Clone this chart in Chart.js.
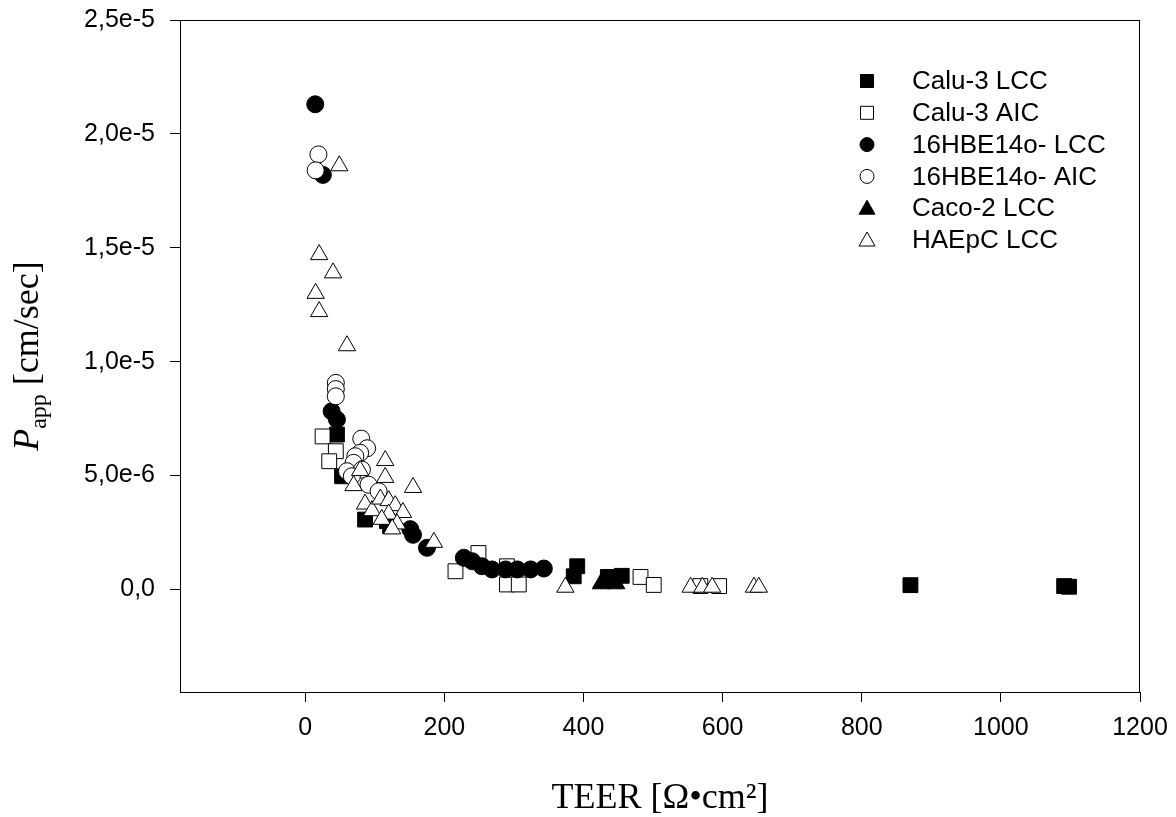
<!DOCTYPE html>
<html>
<head>
<meta charset="utf-8">
<script src="https://cdn.jsdelivr.net/npm/chart.js@4/dist/chart.umd.min.js"></script>
<style>
  body { margin: 0; background: #fff; }
</style>
</head>
<body>
<canvas id="scatterChart" width="1176" height="817"></canvas>
<script>
/*global Chart*/

//----------------------------------------------------------------
/* data: TEER [Ohm*cm2] vs Papp [cm/sec] */
//----------------------------------------------------------------
    var seriesNames = ["Calu-3 LCC", "Calu-3 AIC", "16HBE14o- LCC", "16HBE14o- AIC", "Caco-2 LCC", "HAEpC LCC"];

    var calu3LccX = [45.6, 53, 86, 117.5, 122, 391, 386, 435, 455, 870, 1091, 1098];
    var calu3LccY = [6.8e-6, 4.97e-6, 3.07e-6, 3.0e-6, 2.78e-6, 1.02e-6, 0.58e-6, 0.55e-6, 0.6e-6, 0.19e-6, 0.15e-6, 0.12e-6];

    var calu3AicX = [25, 44, 34.5, 216, 249, 290, 290, 307, 482, 501, 568, 595];
    var calu3AicY = [6.72e-6, 6.07e-6, 5.63e-6, 0.8e-6, 1.6e-6, 1.02e-6, 0.22e-6, 0.22e-6, 0.55e-6, 0.2e-6, 0.15e-6, 0.15e-6];

    var hbeLccX = [14.4, 25.4, 38, 45.6, 151, 155, 175, 228, 240, 254, 268.5, 288, 305, 324, 343];
    var hbeLccY = [2.13e-5, 1.82e-5, 7.82e-6, 7.46e-6, 2.65e-6, 2.4e-6, 1.83e-6, 1.39e-6, 1.24e-6, 1.02e-6, 0.88e-6, 0.88e-6, 0.88e-6, 0.88e-6, 0.92e-6];

    var hbeAicX = [19, 15, 44, 44, 44, 80.6, 89, 79, 72, 69.5, 60, 81.5, 67, 91, 105.5];
    var hbeAicY = [1.91e-5, 1.84e-5, 9.07e-6, 8.8e-6, 8.48e-6, 6.62e-6, 6.2e-6, 6.0e-6, 5.85e-6, 5.56e-6, 5.19e-6, 5.26e-6, 4.97e-6, 4.6e-6, 4.31e-6];

    var cacoLccX = [425, 433, 440, 447];
    var cacoLccY = [0.25e-6, 0.3e-6, 0.32e-6, 0.25e-6];

    var haepcLccX = [49, 20, 40, 15, 20, 60, 115, 115, 155, 79, 69.5, 86, 96, 108, 120, 129.5, 140.5, 120, 110, 132, 125, 185, 374, 554, 571, 585, 645, 652];
    var haepcLccY = [1.86e-5, 1.47e-5, 1.39e-5, 1.30e-5, 1.22e-5, 1.07e-5, 5.66e-6, 4.92e-6, 4.48e-6, 5.22e-6, 4.56e-6, 3.75e-6, 3.46e-6, 3.97e-6, 3.9e-6, 3.68e-6, 3.38e-6, 3.31e-6, 3.08e-6, 2.88e-6, 2.66e-6, 2.07e-6, 0.1e-6, 0.1e-6, 0.1e-6, 0.1e-6, 0.1e-6, 0.1e-6];

    var xTicks = [0, 200, 400, 600, 800, 1000, 1200];
    var yTicks = [0, 5e-6, 1e-5, 1.5e-5, 2e-5, 2.5e-5];
    var xRange = [-180, 1200];
    var yRange = [-4.5e-6, 2.5e-5];

//----------------------------------------------------------------
    function pts(xs, ys) {
        return xs.map(function (x, i) { return {x: x, y: ys[i]}; });
    }
    function fmtY(v) {
        if (Math.abs(v) < 1e-12) return "0,0";
        var e = Math.floor(Math.log10(Math.abs(v)) + 1e-9);
        var m = v / Math.pow(10, e);
        return m.toFixed(1).replace(".", ",") + "e" + e;
    }

    var styles = [
        {style: 'rect', fill: '#000', r: 10.5},
        {style: 'rect', fill: '#fff', r: 10.5},
        {style: 'circle', fill: '#000', r: 8.5},
        {style: 'circle', fill: '#fff', r: 8.5},
        {style: 'triangle', fill: '#000', r: 10},
        {style: 'triangle', fill: '#fff', r: 10}
    ];
    var allData = [
        pts(calu3LccX, calu3LccY), pts(calu3AicX, calu3AicY),
        pts(hbeLccX, hbeLccY), pts(hbeAicX, hbeAicY),
        pts(cacoLccX, cacoLccY), pts(haepcLccX, haepcLccY)
    ];

    var scatterData = {
        datasets: seriesNames.map(function (name, i) {
            return {
                label: name,
                data: allData[i],
                pointStyle: styles[i].style,
                pointRadius: styles[i].r,
                pointHoverRadius: styles[i].r,
                backgroundColor: styles[i].fill,
                borderColor: '#000',
                borderWidth: 1,
                order: seriesNames.length - i
            };
        })
    };

//----------------------------------------------------------------
/* frame, legend box inside plot, y axis title with subscript */
//----------------------------------------------------------------
    var extras = {
        id: 'extras',
        afterDraw: function (chart) {
            var ctx = chart.ctx, a = chart.chartArea;
            ctx.save();
            ctx.strokeStyle = '#000';
            ctx.lineWidth = 1;
            ctx.strokeRect(a.left + 0.5, a.top + 0.5, a.right - a.left - 1, a.bottom - a.top);

            // legend
            ctx.font = '26px "Liberation Sans", Arial, sans-serif';
            ctx.textBaseline = 'middle';
            ctx.fillStyle = '#000';
            seriesNames.forEach(function (name, i) {
                var y = 81 + 31.8 * i, x = 867, s = styles[i];
                ctx.beginPath();
                if (s.style === 'rect') {
                    ctx.rect(x - 6.5, y - 6.5, 13, 13);
                } else if (s.style === 'circle') {
                    ctx.arc(x, y, 7, 0, Math.PI * 2);
                } else {
                    ctx.moveTo(x, y - 8);
                    ctx.lineTo(x + 8, y + 6);
                    ctx.lineTo(x - 8, y + 6);
                    ctx.closePath();
                }
                ctx.fillStyle = s.fill;
                ctx.fill();
                ctx.strokeStyle = '#000';
                ctx.stroke();
                ctx.fillStyle = '#000';
                ctx.fillText(name, 912, y + 1);
            });

            // y title: P_app [cm/sec]
            var big = '36px "Liberation Serif", "Times New Roman", serif';
            var bigI = 'italic ' + big;
            var small = '24px "Liberation Serif", "Times New Roman", serif';
            ctx.font = bigI; var w1 = ctx.measureText('P').width;
            ctx.font = small; var w2 = ctx.measureText('app').width;
            ctx.font = big; var w3 = ctx.measureText(' [cm/sec]').width;
            var total = w1 + w2 + w3;
            ctx.translate(38, (a.top + a.bottom) / 2);
            ctx.rotate(-Math.PI / 2);
            ctx.textBaseline = 'alphabetic';
            ctx.textAlign = 'left';
            var cx = -total / 2;
            ctx.font = bigI; ctx.fillText('P', cx, 0); cx += w1;
            ctx.font = small; ctx.fillText('app', cx, 8); cx += w2;
            ctx.font = big; ctx.fillText(' [cm/sec]', cx, 0);
            ctx.restore();
        }
    };

    var scatterOptions = {
        responsive: false,
        animation: false,
        layout: { padding: {top: 20, right: 36, bottom: 0, left: 0} },
        plugins: {
            legend: { display: false },
            tooltip: { enabled: false }
        },
        scales: {
            x: {
                type: 'linear',
                min: xRange[0],
                max: xRange[1],
                afterBuildTicks: function (s) { s.ticks = xTicks.map(function (v) { return {value: v}; }); },
                afterFit: function (s) { s.height = 125; s.paddingLeft = 0; s.paddingRight = 0; },
                ticks: {
                    color: '#000',
                    padding: 11,
                    maxRotation: 0,
                    font: {family: '"Liberation Sans", Arial, sans-serif', size: 25},
                    callback: function (v) { return String(v); }
                },
                grid: { drawOnChartArea: false, tickLength: 10, tickColor: '#000', color: '#000' },
                border: { color: '#000', width: 1 },
                title: {
                    display: true,
                    text: 'TEER [Ω•cm²]',
                    color: '#000',
                    font: {family: '"Liberation Serif", "Times New Roman", serif', size: 36, lineHeight: 0.9},
                    padding: {top: 0, bottom: 2}
                }
            },
            y: {
                type: 'linear',
                min: yRange[0],
                max: yRange[1],
                afterBuildTicks: function (s) { s.ticks = yTicks.map(function (v) { return {value: v}; }); },
                afterFit: function (s) { s.width = 180; s.paddingTop = 0; s.paddingBottom = 0; },
                ticks: {
                    color: '#000',
                    padding: 15,
                    font: {family: '"Liberation Sans", Arial, sans-serif', size: 25},
                    callback: function (v) { return fmtY(v); }
                },
                grid: { drawOnChartArea: false, tickLength: 10, tickColor: '#000', color: '#000' },
                border: { color: '#000', width: 1 }
            }
        }
    };

    var ctx = document.getElementById("scatterChart").getContext("2d");
    new Chart(ctx, {type: 'scatter', data: scatterData, options: scatterOptions, plugins: [extras]});
//----------------------------------------------------------------
</script>
</body>
</html>
